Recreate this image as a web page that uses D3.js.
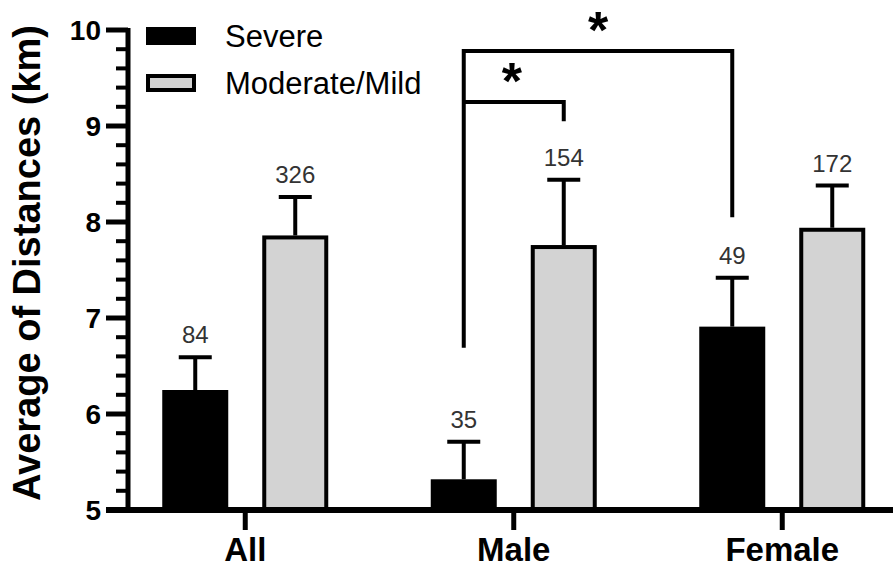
<!DOCTYPE html>
<html>
<head>
<meta charset="utf-8">
<script src="https://cdn.jsdelivr.net/npm/d3@7"></script>
<style>
  body { margin: 0; background: #fff; }
  svg { display: block; font-family: Arial, "Liberation Sans", sans-serif; }
  .tick-label { font-weight: bold; font-size: 28px; }
  .group-label { font-weight: bold; font-size: 33px; }
  .axis-title { font-weight: bold; font-size: 38px; }
  .legend-label { font-size: 31px; }
  .n-label { font-size: 24px; fill: #333; }
  .star { font-weight: bold; font-size: 52px; }
</style>
</head>
<body>
<script>
/*
 * Data.
 */

const GROUPS = ['All', 'Male', 'Female'];
const SERIES = ['Severe', 'Moderate/Mild'];

const SEVERE_MEAN = [6.25, 5.32, 6.91];
const SEVERE_SEM = [0.34, 0.39, 0.51];
const SEVERE_N = [84, 35, 49];

const MODERATE_MEAN = [7.86, 7.76, 7.94];
const MODERATE_SEM = [0.40, 0.68, 0.44];
const MODERATE_N = [326, 154, 172];

const Y_TICKS = [5, 6, 7, 8, 9, 10];

// significance brackets: [group, series] at each end, y of the top line,
// y where each leg stops
const BRACKETS = [
  {from: ['Male', 'Severe'], to: ['Female', 'Severe'], top: 9.78, fromEnd: 6.69, toEnd: 8.05},
  {from: ['Male', 'Severe'], to: ['Male', 'Moderate/Mild'], top: 9.25, fromEnd: 9.25, toEnd: 9.05}
];

/*
 * Global parameters.
 */

const CANVAS_WIDTH = 893;
const CANVAS_HEIGHT = 568;
const AXIS_X = 128;
const AXIS_Y = 510;
const TOP_Y = 30;
const BAR_WIDTH = 66;
const BAR_OFFSET = 50;
const CAP_WIDTH = 33;

const COLORS = {'Severe': '#000', 'Moderate/Mild': '#d3d3d3'};

const svg = d3.select('body')
  .append('svg')
    .attr('width', CANVAS_WIDTH)
    .attr('height', CANVAS_HEIGHT);

/*
 * Scales.
 */

const y = d3.scaleLinear()
    .domain([5, 10])
    .range([AXIS_Y, TOP_Y]);

const x = d3.scaleBand()
    .domain(GROUPS)
    .range([111, 916.5]);

const xInner = d3.scalePoint()
    .domain(SERIES)
    .range([-BAR_OFFSET, BAR_OFFSET]);

const xCenter = (group, series) => x(group) + x.bandwidth() / 2 + xInner(series);

// flat table of bars built from the arrays
const bars = [];
GROUPS.forEach((g, i) => {
  bars.push({group: g, series: 'Severe', mean: SEVERE_MEAN[i], sem: SEVERE_SEM[i], n: SEVERE_N[i]});
  bars.push({group: g, series: 'Moderate/Mild', mean: MODERATE_MEAN[i], sem: MODERATE_SEM[i], n: MODERATE_N[i]});
});

/*
 * Bars, error bars and N labels.
 */

svg.append('g')
  .selectAll('rect')
  .data(bars)
  .enter()
  .append('rect')
    .attr('x', d => xCenter(d.group, d.series) - BAR_WIDTH / 2 + (d.series === 'Severe' ? 0 : 2))
    .attr('y', d => y(d.mean) + (d.series === 'Severe' ? 0 : 2))
    .attr('width', d => BAR_WIDTH - (d.series === 'Severe' ? 0 : 4))
    .attr('height', d => y(5) - y(d.mean) - (d.series === 'Severe' ? 0 : 2))
    .attr('fill', d => COLORS[d.series])
    .attr('stroke', '#000')
    .attr('stroke-width', d => d.series === 'Severe' ? 0 : 4);

const errors = svg.append('g')
    .attr('stroke', '#000')
    .attr('stroke-width', 4)
  .selectAll('g')
  .data(bars)
  .enter()
  .append('g');

errors.append('line')
    .attr('x1', d => xCenter(d.group, d.series))
    .attr('x2', d => xCenter(d.group, d.series))
    .attr('y1', d => y(d.mean))
    .attr('y2', d => y(d.mean + d.sem));

errors.append('line')
    .attr('x1', d => xCenter(d.group, d.series) - CAP_WIDTH / 2)
    .attr('x2', d => xCenter(d.group, d.series) + CAP_WIDTH / 2)
    .attr('y1', d => y(d.mean + d.sem))
    .attr('y2', d => y(d.mean + d.sem));

svg.append('g')
  .selectAll('text')
  .data(bars)
  .enter()
  .append('text')
    .attr('class', 'n-label')
    .attr('x', d => xCenter(d.group, d.series))
    .attr('y', d => y(d.mean + d.sem) - 14)
    .attr('text-anchor', 'middle')
    .text(d => d.n);

/*
 * Axes.
 */

const axes = svg.append('g')
    .attr('stroke', '#000');

axes.append('line')
    .attr('x1', AXIS_X)
    .attr('x2', AXIS_X)
    .attr('y1', y(10) - 2)
    .attr('y2', y(5))
    .attr('stroke-width', 5);

axes.append('line')
    .attr('x1', AXIS_X - 22)
    .attr('x2', CANVAS_WIDTH)
    .attr('y1', y(5))
    .attr('y2', y(5))
    .attr('stroke-width', 6);

// minor ticks every 0.2
const minorTicks = d3.range(5, 10, 0.2).map(v => +v.toFixed(1)).filter(v => !Y_TICKS.includes(v));

axes.selectAll('.minor')
  .data(minorTicks)
  .enter()
  .append('line')
    .attr('class', 'minor')
    .attr('x1', AXIS_X - 12)
    .attr('x2', AXIS_X)
    .attr('y1', d => y(d))
    .attr('y2', d => y(d))
    .attr('stroke-width', 4);

axes.selectAll('.major')
  .data(Y_TICKS)
  .enter()
  .append('line')
    .attr('class', 'major')
    .attr('x1', AXIS_X - 22)
    .attr('x2', AXIS_X)
    .attr('y1', d => y(d))
    .attr('y2', d => y(d))
    .attr('stroke-width', 5);

axes.selectAll('.xtick')
  .data(GROUPS)
  .enter()
  .append('line')
    .attr('class', 'xtick')
    .attr('x1', d => x(d) + x.bandwidth() / 2)
    .attr('x2', d => x(d) + x.bandwidth() / 2)
    .attr('y1', y(5))
    .attr('y2', y(5) + 20)
    .attr('stroke-width', 5);

svg.append('g')
  .selectAll('text')
  .data(Y_TICKS)
  .enter()
  .append('text')
    .attr('class', 'tick-label')
    .attr('x', 101)
    .attr('y', d => y(d) + 10)
    .attr('text-anchor', 'end')
    .text(d => d);

svg.append('g')
  .selectAll('text')
  .data(GROUPS)
  .enter()
  .append('text')
    .attr('class', 'group-label')
    .attr('x', d => x(d) + x.bandwidth() / 2)
    .attr('y', 561)
    .attr('text-anchor', 'middle')
    .text(d => d);

svg.append('text')
    .attr('class', 'axis-title')
    .attr('transform', 'translate(40, 263) rotate(-90)')
    .attr('text-anchor', 'middle')
    .text('Average of Distances (km)');

/*
 * Legend.
 */

const legend = svg.append('g')
  .selectAll('g')
  .data(SERIES)
  .enter()
  .append('g')
    .attr('transform', (d, i) => `translate(146, ${27 + i * 47})`);

legend.append('rect')
    .attr('x', d => d === 'Severe' ? 0 : 2)
    .attr('y', d => d === 'Severe' ? 0 : 2)
    .attr('width', d => d === 'Severe' ? 50 : 46)
    .attr('height', d => d === 'Severe' ? 18 : 14)
    .attr('fill', d => COLORS[d])
    .attr('stroke', '#000')
    .attr('stroke-width', d => d === 'Severe' ? 0 : 4);

legend.append('text')
    .attr('class', 'legend-label')
    .attr('x', 79)
    .attr('y', 20)
    .text(d => d);

/*
 * Significance brackets.
 */

const brackets = svg.append('g')
  .selectAll('g')
  .data(BRACKETS)
  .enter()
  .append('g');

brackets.append('path')
    .attr('d', d => {
      const x0 = xCenter(...d.from);
      const x1 = xCenter(...d.to);
      return `M${x0},${y(d.fromEnd)}V${y(d.top)}H${x1}V${y(d.toEnd)}`;
    })
    .attr('fill', 'none')
    .attr('stroke', '#000')
    .attr('stroke-width', 4);

brackets.append('text')
    .attr('class', 'star')
    .attr('x', d => (xCenter(...d.from) + xCenter(...d.to)) / 2 - (d.to[0] === 'Male' ? 2 : 0))
    .attr('y', d => y(d.top) - 3)
    .attr('text-anchor', 'middle')
    .text('*');
</script>
</body>
</html>
